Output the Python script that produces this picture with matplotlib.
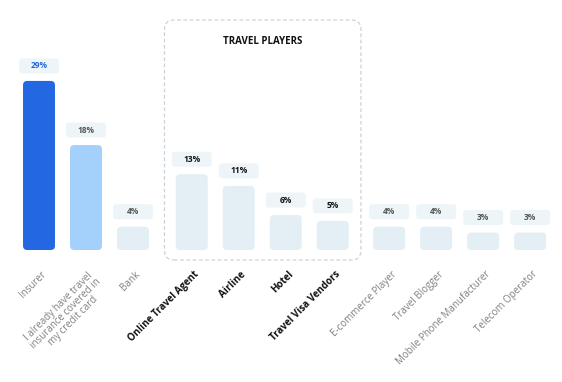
import matplotlib
matplotlib.use("Agg")
import matplotlib.pyplot as plt
from matplotlib.patches import FancyBboxPatch
import numpy as np

plt.rcParams['font.family'] = ['Open Sans', 'DejaVu Sans']

categories = ["Insurer", "I already have travel\ninsurance covered in\nmy credit card", "Bank",
              "Online Travel Agent", "Airline", "Hotel", "Travel Visa Vendors",
              "E-commerce Player", "Travel Blogger", "Mobile Phone Manufacturer", "Telecom Operator"]
values = [29, 18, 4, 13, 11, 6, 5, 4, 4, 3, 3]
value_labels = ["29%", "18%", "4%", "13%", "11%", "6%", "5%", "4%", "4%", "3%", "3%"]
group = [0, 0, 0, 1, 1, 1, 1, 2, 2, 2, 2]
group_title = "TRAVEL PLAYERS"

bar_colors = ["#2367e2", "#a3d1fb"] + ["#e3eff4"] * 9
label_colors = ["#2367e2", "#555555", "#555555"] + ["#111111"] * 4 + ["#555555"] * 4
tick_colors = ["#808080"] * 3 + ["#111111"] * 4 + ["#808080"] * 4
tick_weights = ["normal"] * 3 + ["bold"] * 4 + ["normal"] * 4

W, H = 562, 382
fig = plt.figure(figsize=(W / 100, H / 100), dpi=100)
ax = fig.add_axes([0, 0, 1, 1])

px_x = 47.0   # px per x unit
px_y = 5.83   # px per y unit
x0_px, base_px = 39, 250
ax.set_xlim(-x0_px / px_x, (W - x0_px) / px_x)
ax.set_ylim(-(H - base_px) / px_y, base_px / px_y)
ax.axis("off")

gap = {0: 0.0, 1: 0.25, 2: 0.45}
x = np.arange(len(values)) + np.array([gap[g] for g in group])

aspect = (1 / px_y) / (1 / px_x)
bw = 0.68
bars = ax.bar(x, values, width=bw, color="none")
for b, c in zip(bars, bar_colors):
    p = FancyBboxPatch((b.get_x(), 0), b.get_width(), b.get_height(),
                       boxstyle="round,pad=0,rounding_size=0.09",
                       mutation_aspect=aspect, fc=c, ec="none", zorder=2)
    ax.add_patch(p)
    b.remove()

# value label boxes
lw_u, lh_u = 40 / px_x, 15 / px_y
for xi, v, lab, lc in zip(x, values, value_labels, label_colors):
    cy = v + 15 / px_y
    p = FancyBboxPatch((xi - lw_u / 2, cy - lh_u / 2), lw_u, lh_u,
                       boxstyle="round,pad=0,rounding_size=0.07",
                       mutation_aspect=aspect, fc="#eef5f8", ec="none", zorder=2)
    ax.add_patch(p)
    ax.text(xi, cy, lab, ha="center", va="center", fontsize=6, fontweight="bold",
            color=lc, zorder=3)

# tick labels
for xi, cat, tc, tw in zip(x, categories, tick_colors, tick_weights):
    ax.text(xi + 0.04, -19 / px_y, cat, rotation=45, ha="right", va="top",
            rotation_mode="anchor", fontsize=7, color=tc, fontweight=tw,
            multialignment="center", linespacing=0.95)

# group dashed box
gx = x[np.array(group) == 1]
left = gx.min() - 0.58
right = gx.max() + 0.6
bottom = -10 / px_y
top = 230 / px_y
box = FancyBboxPatch((left, bottom), right - left, top - bottom,
                     boxstyle="round,pad=0,rounding_size=0.2", mutation_aspect=aspect,
                     fc="none", ec="#c9d3d9", lw=0.9, ls=(0, (3, 2)), zorder=1)
ax.add_patch(box)
ax.text((left + right) / 2, 209 / px_y, group_title, ha="center", va="center",
        fontsize=7, fontweight="bold", color="#111111")

fig.savefig("out.png", dpi=100)
